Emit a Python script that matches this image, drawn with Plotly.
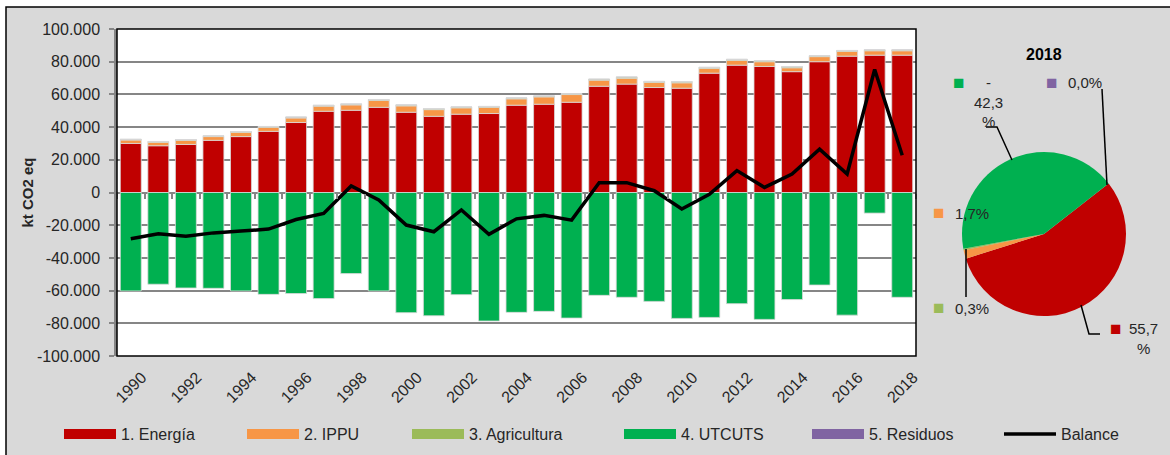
import plotly.graph_objects as go

# Datos (kt CO2 eq)
anios = [1990, 1991, 1992, 1993, 1994, 1995, 1996, 1997, 1998, 1999,
         2000, 2001, 2002, 2003, 2004, 2005, 2006, 2007, 2008, 2009,
         2010, 2011, 2012, 2013, 2014, 2015, 2016, 2017, 2018]

energia = [30000, 28600, 29400, 31900, 34200, 37400, 42800, 49700, 50300, 52100,
           49100, 46600, 47900, 48300, 53400, 54000, 55200, 65000, 66300, 64200,
           63800, 73000, 77900, 77100, 73900, 80000, 83400, 84000, 84000]
ippu = [2100, 2100, 2500, 2300, 2600, 2500, 2800, 3100, 3300, 4200,
        3900, 4100, 3900, 3800, 3900, 4500, 4700, 3700, 3600, 3100,
        3300, 2900, 2900, 2900, 2400, 3100, 2900, 2700, 2700]
agricultura = [400, 400, 400, 400, 400, 400, 500, 500, 500, 500,
               500, 500, 500, 500, 500, 500, 500, 600, 700, 600,
               600, 600, 600, 600, 600, 500, 500, 500, 500]
utcuts = [-60200, -56100, -58400, -58600, -60200, -62300, -61800, -64900, -49600, -60200,
          -73500, -75400, -62500, -78600, -73300, -72700, -76800, -62900, -64100, -66600,
          -77000, -76400, -68000, -77600, -65500, -56600, -75000, -12600, -64100]
residuos = [100, 100, 100, 100, 100, 100, 100, 100, 100, 100,
            100, 100, 100, 100, 100, 100, 100, 100, 100, 100,
            100, 100, 100, 100, 100, 100, 100, 100, 100]
balance = [-28300, -25300, -26700, -24700, -23600, -22400, -16500, -12800, 4000, -4600,
           -19900, -24000, -10700, -25600, -16100, -14000, -16900, 6000, 6000, 1100,
           -10100, -1100, 13400, 3100, 11300, 26500, 11300, 75200, 22800]

# Torta 2018 (%)
torta_nombres = ["1. Energía", "2. IPPU", "3. Agricultura", "4. UTCUTS", "5. Residuos"]
torta_valores = [55.7, 1.7, 0.3, 42.3, 0.0]

y_ticks = [100000, 80000, 60000, 40000, 20000, 0, -20000, -40000, -60000, -80000, -100000]
y_ticktext = ["100.000", "80.000", "60.000", "40.000", "20.000", "0",
              "-20.000", "-40.000", "-60.000", "-80.000", "-100.000"]

colores = {"1. Energía": "#C00000", "2. IPPU": "#F79646", "3. Agricultura": "#9BBB59",
           "4. UTCUTS": "#00B050", "5. Residuos": "#8064A2"}

W, H = 1170, 455
def px(x):
    return x / W
def py(y):
    return 1 - y / H

FUENTE = "Liberation Sans, Arial, sans-serif"
GRIS = "#868686"

fig = go.Figure()

series = [("1. Energía", energia), ("2. IPPU", ippu), ("3. Agricultura", agricultura),
          ("4. UTCUTS", utcuts), ("5. Residuos", residuos)]
for nombre, vals in series:
    fig.add_trace(go.Bar(x=anios, y=vals, name=nombre, showlegend=False,
                         marker=dict(color=colores[nombre], line=dict(color="#d9d9d9", width=0.8))))

fig.add_trace(go.Scatter(x=anios, y=balance, mode="lines", name="Balance", showlegend=False,
                         line=dict(color="black", width=3.5)))

# entradas de leyenda (rectangulos anchos como en Excel), una leyenda por entrada
leyenda_x = [59, 242, 407, 619, 807, 999]
nombres_ley = [n for n, _ in series] + ["Balance"]
for i, nombre in enumerate(nombres_ley):
    ref = "legend" if i == 0 else f"legend{i + 1}"
    if nombre == "Balance":
        linea = dict(color="black", width=3.5)
    else:
        linea = dict(color=colores[nombre], width=11.5)
    fig.add_trace(go.Scatter(x=[None], y=[None], mode="lines", name=nombre,
                             line=linea, legend=ref))

fig.add_trace(go.Pie(labels=torta_nombres, values=torta_valores, sort=False,
                     direction="clockwise", rotation=52, textinfo="none",
                     marker=dict(colors=[colores[n] for n in torta_nombres]),
                     showlegend=False, hoverinfo="label+percent",
                     domain=dict(x=[px(962), px(1126)], y=[py(316), py(152)])))

dom_x = [px(117), px(916)]
dom_y = [py(356), py(29)]

fig.update_layout(
    width=W, height=H,
    margin=dict(l=0, r=0, t=0, b=0),
    paper_bgcolor="white", plot_bgcolor="white",
    barmode="relative", bargap=0.24,
    font=dict(family=FUENTE, size=15, color="#262626"),
    xaxis=dict(domain=dom_x, range=[1989.5, 2018.5], tickvals=anios[::2],
               tickangle=-45, tickfont=dict(size=16), showgrid=False,
               ticks="", showline=False, automargin=False, zeroline=False,
               ticklabelshift=11, ticklabelstandoff=8),
    # marcas del eje de categorias sobre la linea del cero
    xaxis2=dict(domain=dom_x, range=[1989.5, 2018.5], overlaying="x", anchor="free",
                position=(dom_y[0] + dom_y[1]) / 2, side="bottom",
                tick0=1989.5, dtick=1, ticks="outside", ticklen=5, tickwidth=1.5,
                tickcolor=GRIS, showticklabels=False, showgrid=False, showline=False,
                zeroline=False),
    yaxis=dict(domain=dom_y, range=[-100000, 100000], tickvals=y_ticks, ticktext=y_ticktext,
               tickfont=dict(size=16), showgrid=True, gridcolor=GRIS, gridwidth=2,
               zeroline=True, zerolinecolor=GRIS, zerolinewidth=2,
               showline=True, linecolor=GRIS, linewidth=2.5,
               ticks="outside", ticklen=5, tickcolor=GRIS, tickwidth=2,
               ticklabelstandoff=6, automargin=False,
               title=dict(text="<b>kt CO2 eq</b>", font=dict(size=15, color="#262626"), standoff=0)),
)
# traza vacia para activar el eje de marcas
fig.add_trace(go.Scatter(x=[None], y=[None], xaxis="x2", yaxis="y", showlegend=False,
                         hoverinfo="skip"))

for i, lx in enumerate(leyenda_x):
    key = "legend" if i == 0 else f"legend{i + 1}"
    fig.update_layout({key: dict(orientation="h", x=px(lx), xanchor="left",
                                 y=py(434), yanchor="middle",
                                 bgcolor="rgba(0,0,0,0)", font=dict(size=16, color="#262626"),
                                 itemwidth=52)})

shapes = [
    # marco gris del grafico
    dict(type="rect", xref="paper", yref="paper", x0=px(6), x1=1.02, y0=-0.02, y1=py(7),
         fillcolor="#d9d9d9", line=dict(color="black", width=1.5), layer="below"),
    # area de trazado blanca
    dict(type="rect", xref="paper", yref="paper", x0=dom_x[0], x1=dom_x[1], y0=dom_y[0], y1=dom_y[1],
         fillcolor="white", line=dict(width=0), layer="below"),
    dict(type="rect", xref="paper", yref="paper", x0=dom_x[0], x1=dom_x[1], y0=dom_y[0], y1=dom_y[1],
         fillcolor="rgba(0,0,0,0)", line=dict(color="black", width=1.5), layer="above"),
    # lineas guia de la torta
    dict(type="path", xref="paper", yref="paper",
         path=f"M{px(986)},{py(127)} L{px(997)},{py(127)} L{px(1012)},{py(160)}",
         line=dict(color="black", width=1.5)),
    dict(type="line", xref="paper", yref="paper", x0=px(1102), y0=py(89), x1=px(1107), y1=py(185),
         line=dict(color="black", width=1.5)),
    dict(type="line", xref="paper", yref="paper", x0=px(966), y0=py(249), x1=px(966), y1=py(297),
         line=dict(color="black", width=1.5)),
    dict(type="path", xref="paper", yref="paper",
         path=f"M{px(1081)},{py(305)} L{px(1089)},{py(334)} L{px(1100)},{py(334)}",
         line=dict(color="black", width=1.5)),
]
fig.update_layout(shapes=shapes)

def cuadro(color):
    return f'<span style="color:{color}">■</span>'

anots = [
    dict(x=px(1044), y=py(54), text="<b>2018</b>", font=dict(size=16, color="black")),
    dict(x=px(958), y=py(82), text=cuadro(colores["4. UTCUTS"])),
    dict(x=px(988), y=py(72), yanchor="top", text="-<br>42,3<br>%", font=dict(size=15)),
    dict(x=px(1051), y=py(82), text=cuadro(colores["5. Residuos"])),
    dict(x=px(1066), y=py(82), xanchor="left", text="0,0%", font=dict(size=15)),
    dict(x=px(938), y=py(212), text=cuadro(colores["2. IPPU"])),
    dict(x=px(953), y=py(213), xanchor="left", text="1,7%", font=dict(size=15)),
    dict(x=px(938), y=py(307), text=cuadro(colores["3. Agricultura"])),
    dict(x=px(953), y=py(308), xanchor="left", text="0,3%", font=dict(size=15)),
    dict(x=px(1115), y=py(328), text=cuadro(colores["1. Energía"])),
    dict(x=px(1143), y=py(318), yanchor="top", text="55,7<br>%", font=dict(size=15)),
]
for a in anots:
    a.setdefault("xref", "paper")
    a.setdefault("yref", "paper")
    a.setdefault("xanchor", "center")
    a.setdefault("yanchor", "middle")
    a.setdefault("showarrow", False)
    a.setdefault("font", dict(size=19))
fig.update_layout(annotations=anots)

fig.write_html("out.html", config={"displayModeBar": False},
               post_script="document.body.style.margin='0px';")
